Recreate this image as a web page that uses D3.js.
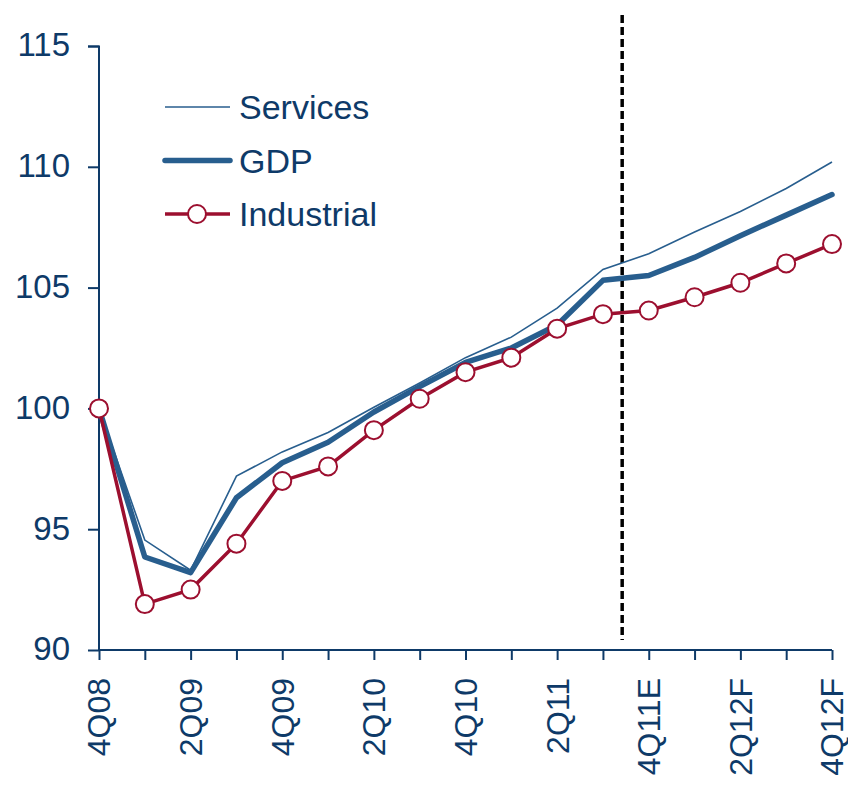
<!DOCTYPE html>
<html>
<head>
<meta charset="utf-8">
<script src="https://cdn.jsdelivr.net/npm/d3@7"></script>
<style>
  body { margin: 0; background: #fff; }
  svg { display: block; font-family: "Liberation Sans", Arial, sans-serif; }
</style>
</head>
<body>
<svg width="848" height="788"></svg>
<script>
// Quarterly index values, 4Q08 = 100
const quarters = ['4Q08', '1Q09', '2Q09', '3Q09', '4Q09', '1Q10', '2Q10', '3Q10', '4Q10',
    '1Q11', '2Q11', '3Q11', '4Q11E', '1Q12F', '2Q12F', '3Q12F', '4Q12F'];
const tickLabels = ['4Q08', '2Q09', '4Q09', '2Q10', '4Q10', '2Q11', '4Q11E', '2Q12F', '4Q12F'];
const yTicks = [90, 95, 100, 105, 110, 115];

const services = [100, 94.55, 93.3, 97.2, 98.2, 99.0, 100.05, 101.05, 102.1, 102.95, 104.15, 105.75, 106.4, 107.3, 108.15, 109.1, 110.2];
const gdp = [100, 93.85, 93.2, 96.3, 97.75, 98.6, 99.85, 100.9, 101.9, 102.5, 103.45, 105.3, 105.5, 106.25, 107.15, 108.0, 108.85];
const industrial = [100, 91.9, 92.5, 94.4, 97.0, 97.6, 99.1, 100.4, 101.5, 102.1, 103.3, 103.9, 104.05, 104.6, 105.2, 106.0, 106.8];

// forecast divider sits between 3Q11 and 4Q11E
const dividerAt = 11.42;

const svg = d3.select('svg');
const margin = { top: 46, left: 99 };
const innerWidth = 733;
const innerHeight = 604;

const navy = '#0e3a68';
const blue = '#285e8e';
const red = '#9c0f2f';

const x = d3.scaleLinear().domain([0, quarters.length - 1]).range([0, innerWidth]);
const y = d3.scaleLinear().domain([90, 115]).range([innerHeight, 0]);

const g = svg.append('g').attr('transform', `translate(${margin.left},${margin.top})`);

// y axis
const yAxis = d3.axisLeft(y).tickValues(yTicks).tickSize(11).tickPadding(18);
const yG = g.append('g').call(yAxis);
yG.select('.domain').attr('stroke', navy).attr('stroke-width', 2).attr('d', `M-11,0.5H0V${innerHeight}`);
yG.selectAll('.tick line').attr('stroke', navy).attr('stroke-width', 2);
yG.selectAll('.tick text').attr('fill', navy).style('font-size', '33px').attr('dy', '0.3em');

// x axis: every quarter gets a tick, every second one a label
const xAxis = d3.axisBottom(x).tickValues(d3.range(quarters.length)).tickSize(10)
    .tickFormat(i => tickLabels.includes(quarters[i]) ? quarters[i] : '');
const xG = g.append('g').attr('transform', `translate(0,${innerHeight})`).call(xAxis);
xG.select('.domain').attr('stroke', navy).attr('stroke-width', 2).attr('d', `M0,0H${innerWidth}`);
xG.selectAll('.tick line').attr('stroke', navy).attr('stroke-width', 2);
xG.selectAll('.tick text').filter(function () { return this.textContent === ''; }).remove();
xG.selectAll('.tick text')
    .attr('fill', navy)
    .style('font-size', '32px')
    .attr('text-anchor', 'end')
    .attr('transform', 'rotate(-90)')
    .attr('x', -28)
    .attr('y', 0)
    .attr('dy', '0.34em');

// forecast divider
g.append('line')
    .attr('x1', x(dividerAt)).attr('x2', x(dividerAt))
    .attr('y1', -31).attr('y2', innerHeight - 10)
    .attr('stroke', '#000')
    .attr('stroke-width', 3.5)
    .attr('stroke-dasharray', '8,4');

const line = d3.line().x((d, i) => x(i)).y(d => y(d));

g.append('path').datum(services)
    .attr('fill', 'none').attr('stroke', blue).attr('stroke-width', 1.6)
    .attr('d', line);

g.append('path').datum(gdp)
    .attr('fill', 'none').attr('stroke', blue).attr('stroke-width', 5.5)
    .attr('stroke-linejoin', 'round').attr('stroke-linecap', 'round')
    .attr('d', line);

g.append('path').datum(industrial)
    .attr('fill', 'none').attr('stroke', red).attr('stroke-width', 3.5)
    .attr('d', line);

g.selectAll('.ind-dot')
    .data(industrial)
    .join('circle')
    .attr('class', 'ind-dot')
    .attr('cx', (d, i) => x(i))
    .attr('cy', d => y(d))
    .attr('r', 9)
    .attr('fill', '#fff')
    .attr('stroke', red)
    .attr('stroke-width', 2);

// legend
const legendItems = [
    { name: 'Services', width: 1.6, color: blue, dot: false },
    { name: 'GDP', width: 5.5, color: blue, dot: false },
    { name: 'Industrial', width: 3.5, color: red, dot: true }
];
const legend = svg.append('g').attr('transform', 'translate(165,107)');
const item = legend.selectAll('g')
    .data(legendItems)
    .join('g')
    .attr('transform', (d, i) => `translate(0,${i * 53.5})`);
item.append('line')
    .attr('x1', 0).attr('x2', 65)
    .attr('stroke', d => d.color)
    .attr('stroke-width', d => d.width)
    .attr('stroke-linecap', d => d.width > 4 ? 'round' : 'butt');
item.filter(d => d.dot).append('circle')
    .attr('cx', 32).attr('r', 9)
    .attr('fill', '#fff').attr('stroke', red).attr('stroke-width', 2);
item.append('text')
    .attr('x', 74)
    .attr('dy', '0.36em')
    .attr('fill', navy)
    .style('font-size', '34px')
    .text(d => d.name);
</script>
</body>
</html>
